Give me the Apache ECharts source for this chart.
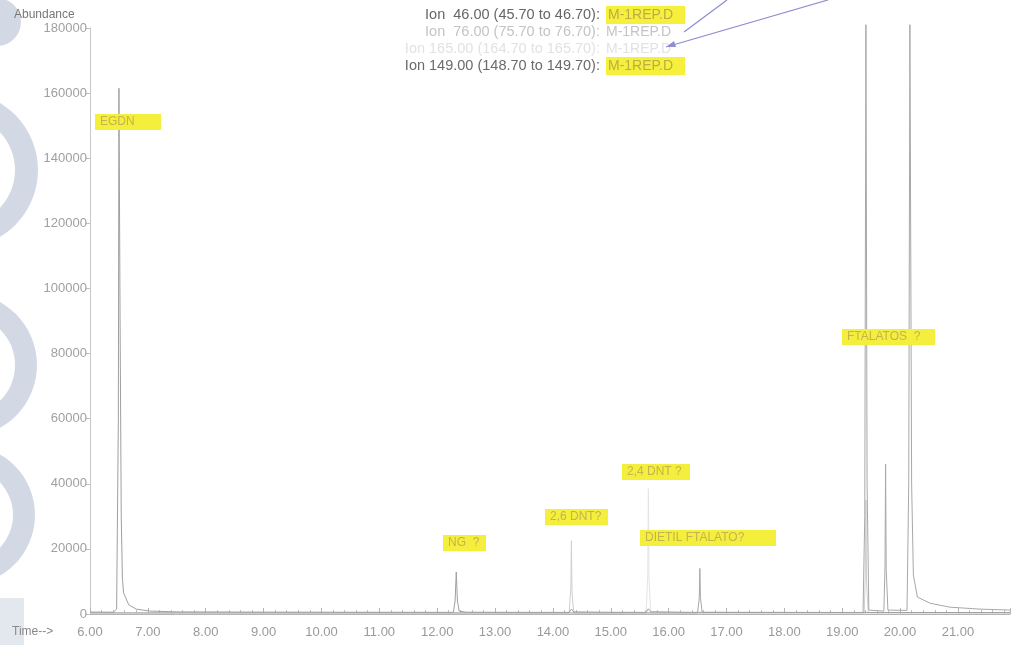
<!DOCTYPE html>
<html>
<head>
<meta charset="utf-8">
<script src="https://cdn.jsdelivr.net/npm/echarts@6/dist/echarts.min.js"></script>
<style>
  html, body { margin: 0; padding: 0; background: #fff; }
  #main { width: 1013px; height: 645px; }
</style>
</head>
<body>
<div id="main"></div>
<script>
// retention time (min) / abundance
var ion46 = [
  [6.00, 600], [6.40, 550], [6.46, 1500], [6.49, 60000], [6.50, 161500], [6.52, 90000],
  [6.54, 30000], [6.56, 11000], [6.58, 6500], [6.67, 2800], [6.80, 1500], [7.03, 900],
  [7.50, 650], [8.50, 600], [9.50, 560], [10.50, 540], [11.50, 520], [12.28, 500],
  [12.31, 4000], [12.33, 12900], [12.35, 4000], [12.38, 900], [12.50, 550], [13.50, 500],
  [14.28, 480], [14.32, 1500], [14.36, 650], [15.00, 520], [15.61, 500], [15.65, 1600],
  [15.69, 700], [16.40, 500], [17.50, 480], [19.00, 470], [21.90, 450]
];
var ion76 = [
  [6.00, 300], [14.28, 300], [14.31, 8000], [14.32, 22500], [14.33, 7000], [14.36, 300],
  [19.38, 300], [19.40, 12000], [19.41, 35000], [19.42, 10000], [19.45, 400], [21.90, 300]
];
var ion165 = [
  [6.00, 250], [15.61, 250], [15.64, 12000], [15.65, 38500], [15.66, 11000], [15.69, 250],
  [21.90, 250]
];
var ion149 = [
  [6.00, 350], [12.00, 350], [16.50, 350], [16.53, 5000], [16.54, 14000], [16.55, 5000],
  [16.58, 500], [19.36, 450], [19.39, 30000], [19.41, 181000], [19.43, 40000], [19.46, 1200],
  [19.72, 900], [19.74, 15000], [19.75, 46000], [19.76, 14000], [19.79, 1200], [20.12, 1100],
  [20.15, 40000], [20.17, 181000], [20.20, 40000], [20.23, 12000], [20.30, 5200], [20.52, 3300],
  [20.86, 2100], [21.38, 1500], [21.90, 1200]
];

var ionLines = [
  ['Ion  46.00 (45.70 to 46.70): ', 'M-1REP.D', '#666', true],
  ['Ion  76.00 (75.70 to 76.70): ', 'M-1REP.D', '#c4c4c4', false],
  ['Ion 165.00 (164.70 to 165.70): ', 'M-1REP.D', '#e2e2e2', false],
  ['Ion 149.00 (148.70 to 149.70): ', 'M-1REP.D', '#6a6a6a', true]
];

var peakNotes = [
  ['EGDN', 95, 114, 66],
  ['NG  ?', 443, 535, 43],
  ['2,6 DNT?', 545, 509, 63],
  ['2,4 DNT ?', 622, 464, 68],
  ['DIETIL FTALATO?', 640, 530, 136],
  ['FTALATOS  ?', 842, 329, 93]
];

var myChart = echarts.init(document.getElementById('main'));

var font = 'Liberation Sans';
var graphics = [];

// watermark shapes on the left edge
var wm = '#d3d9e4';
graphics.push({ type: 'circle', shape: { cx: -3, cy: 22, r: 24 }, style: { fill: wm }, z: -1 });
graphics.push({ type: 'ring', shape: { cx: -40, cy: 170, r: 78, r0: 55 }, style: { fill: wm }, z: -1 });
graphics.push({ type: 'ring', shape: { cx: -35, cy: 365, r: 72, r0: 50 }, style: { fill: wm }, z: -1 });
graphics.push({ type: 'ring', shape: { cx: -35, cy: 515, r: 70, r0: 48 }, style: { fill: wm }, z: -1 });
graphics.push({ type: 'rect', shape: { x: 0, y: 598, width: 24, height: 47 }, style: { fill: '#e3e7ee' }, z: -1 });

graphics.push({ type: 'text', left: 14, top: 9, style: { text: 'Abundance', font: '12px ' + font, fill: '#777' } });
graphics.push({ type: 'text', left: 12, top: 626, style: { text: 'Time-->', font: '12px ' + font, fill: '#888' } });

ionLines.forEach(function (l, i) {
  var y = 15 + i * 17;
  graphics.push({
    type: 'text', x: 604, y: y,
    style: { text: l[0], font: '14.5px ' + font, fill: l[2], align: 'right', verticalAlign: 'middle' }
  });
  graphics.push({
    type: 'text', x: 606, y: y,
    style: {
      text: l[1], font: '14px ' + font, fill: l[3] ? '#b9ad45' : l[2],
      align: 'left', verticalAlign: 'middle',
      backgroundColor: l[3] ? '#f6f03c' : 'transparent',
      padding: l[3] ? [2, 12, 2, 2] : 0
    }
  });
});

// blue arrows pointing at the faint ion lines
graphics.push({ type: 'line', shape: { x1: 727, y1: 0, x2: 684, y2: 32 }, style: { stroke: '#8f8fd0', lineWidth: 1.3 } });
graphics.push({ type: 'line', shape: { x1: 828, y1: 0, x2: 666, y2: 47 }, style: { stroke: '#8f8fd0', lineWidth: 1.3 } });
graphics.push({ type: 'polygon', shape: { points: [[666, 47], [674, 41], [676, 47]] }, style: { fill: '#8f8fd0' } });

peakNotes.forEach(function (n) {
  graphics.push({
    type: 'rect', shape: { x: n[1], y: n[2], width: n[3], height: 16 },
    style: { fill: '#f4ef3c' }, z: 5
  });
  graphics.push({
    type: 'text', left: n[1] + 5, top: n[2] + 2, z: 6,
    style: { text: n[0], font: '12px ' + font, fill: '#c2b450' }
  });
});

var option = {
  animation: false,
  backgroundColor: '#fff',
  textStyle: { fontFamily: font },
  grid: { left: 90, right: 3, top: 28, bottom: 31 },
  xAxis: {
    type: 'value',
    min: 6,
    max: 21.9,
    interval: 1,
    axisLine: { lineStyle: { color: '#b5b5b5' } },
    axisTick: { inside: true, length: 6, lineStyle: { color: '#b5b5b5' } },
    minorTick: { show: true, splitNumber: 5, length: 4, lineStyle: { color: '#c0c0c0' } },
    splitLine: { show: false },
    axisLabel: {
      color: '#9a9a9a', fontSize: 13, margin: 12,
      formatter: function (v) { return v % 1 === 0 ? v.toFixed(2) : ''; }
    }
  },
  yAxis: {
    type: 'value',
    min: 0,
    max: 180000,
    interval: 20000,
    axisLine: { show: true, lineStyle: { color: '#c8c8c8' } },
    axisTick: { show: true, length: 4, lineStyle: { color: '#c0c0c0' } },
    splitLine: { show: false },
    axisLabel: {
      color: '#a0a0a0', fontSize: 13, margin: 3,
      formatter: function (v) { return String(v); }
    }
  },
  series: [
    { name: 'Ion 165', type: 'line', data: ion165, showSymbol: false, clip: false,
      lineStyle: { color: '#e4e4e4', width: 1 } },
    { name: 'Ion 76', type: 'line', data: ion76, showSymbol: false, clip: false,
      lineStyle: { color: '#cfcfcf', width: 1 } },
    { name: 'Ion 149', type: 'line', data: ion149, showSymbol: false, clip: false,
      lineStyle: { color: '#a8a8a8', width: 1 } },
    { name: 'Ion 46', type: 'line', data: ion46, showSymbol: false, clip: false,
      lineStyle: { color: '#a0a0a0', width: 1 } }
  ],
  graphic: graphics
};

myChart.setOption(option);
</script>
</body>
</html>
